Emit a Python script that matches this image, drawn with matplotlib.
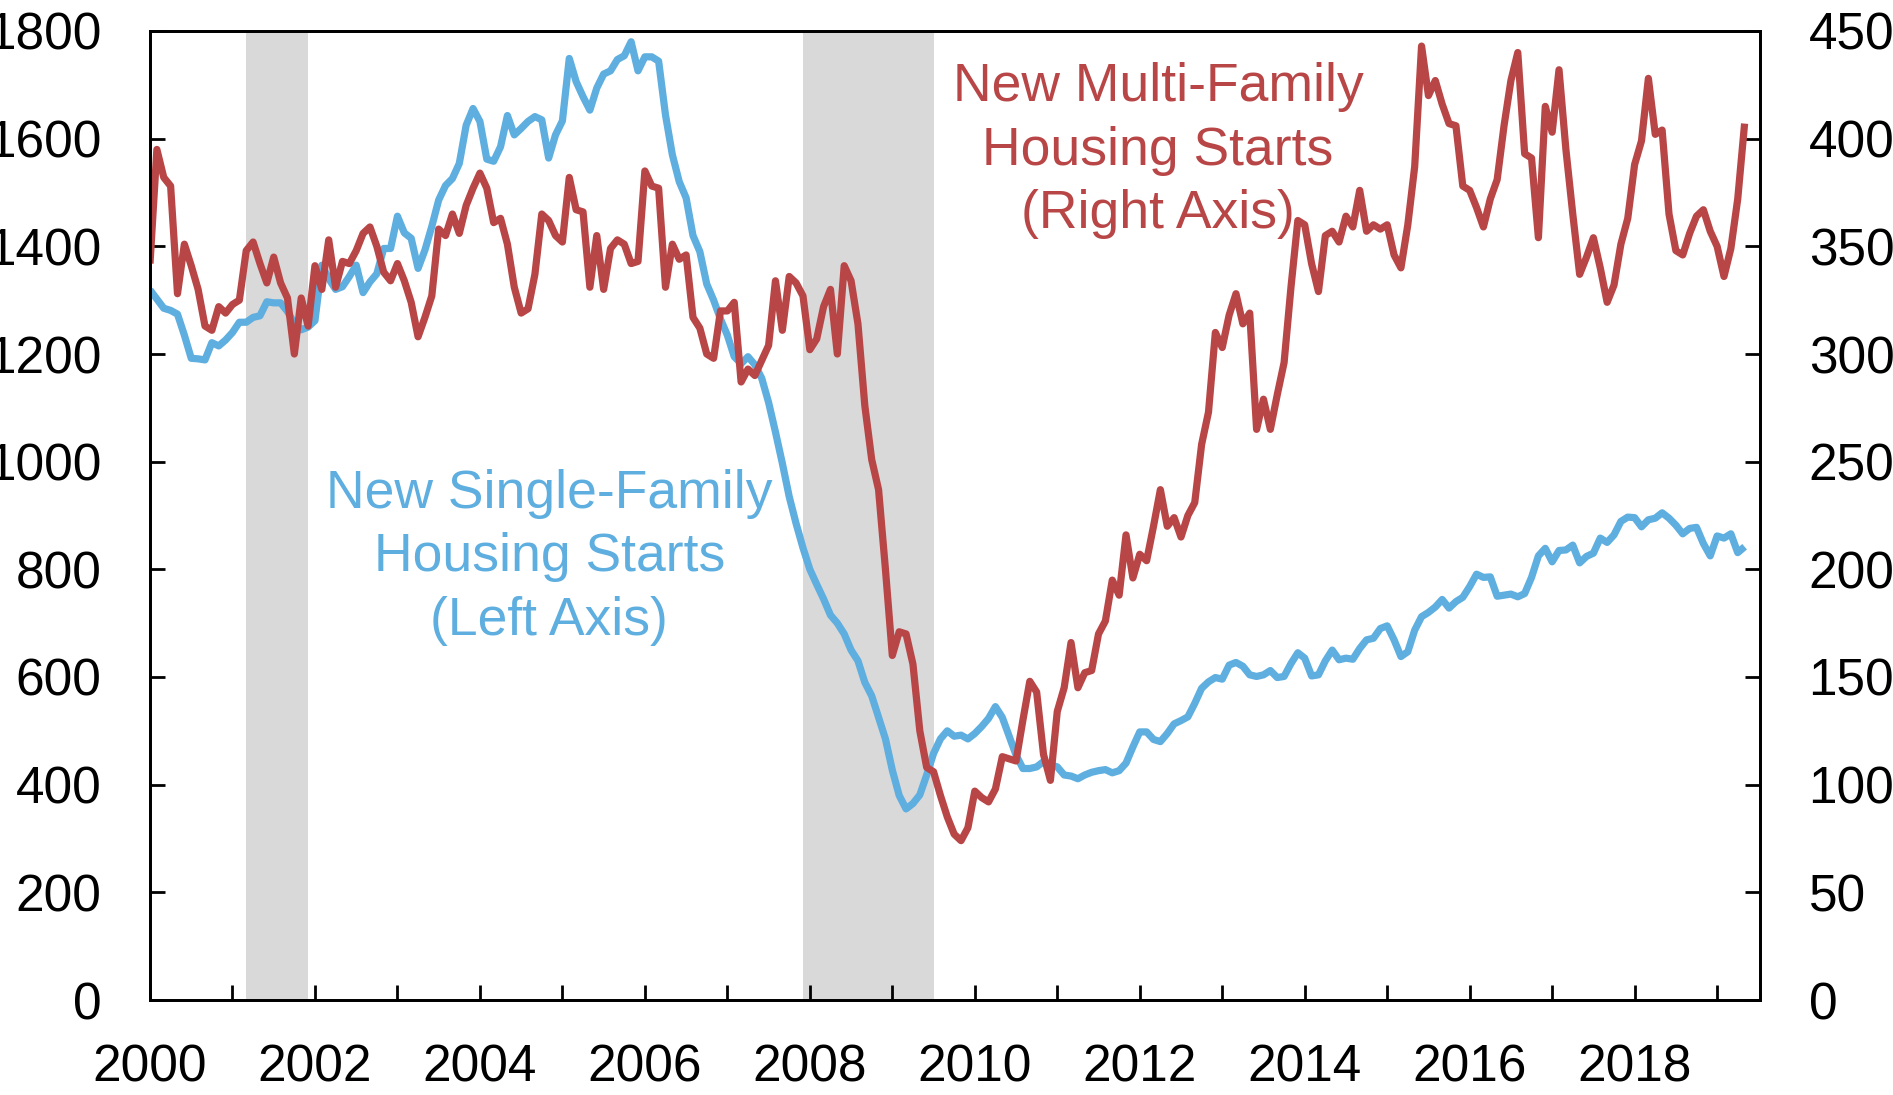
import matplotlib
matplotlib.use("Agg")
import matplotlib.pyplot as plt
import numpy as np

plt.rcParams['font.family'] = ['Liberation Sans', 'DejaVu Sans']

# ---------------- data (monthly, Jan 2000 - May 2019) ----------------
START_YEAR = 2000

# New single-family housing starts (thousands, left axis)
single_family = [
    1319, 1302, 1285, 1281, 1274, 1235, 1192, 1191, 1189, 1221, 1215, 1226,   # 2000
    1240, 1259, 1259, 1268, 1271, 1297, 1295, 1295, 1279, 1257, 1245, 1250,   # 2001
    1262, 1365, 1340, 1320, 1325, 1344, 1365, 1314, 1334, 1349, 1396, 1396,   # 2002
    1456, 1425, 1415, 1359, 1393, 1437, 1486, 1513, 1526, 1554, 1625, 1656,   # 2003
    1632, 1562, 1558, 1585, 1643, 1607, 1619, 1632, 1641, 1635, 1564, 1607,   # 2004
    1633, 1749, 1706, 1678, 1653, 1694, 1720, 1726, 1747, 1754, 1780, 1726,   # 2005
    1752, 1752, 1744, 1644, 1570, 1520, 1490, 1420, 1390, 1330, 1300, 1265,   # 2006
    1235, 1195, 1182, 1195, 1180, 1155, 1110, 1055, 997, 935, 885, 840,       # 2007
    800, 772, 745, 715, 700, 680, 650, 630, 590, 565, 525, 485,               # 2008
    427, 380, 355, 365, 381, 418, 458, 485, 500, 490, 492, 485,               # 2009
    495, 508, 523, 545, 525, 490, 455, 430, 430, 433, 443, 437,               # 2010
    433, 418, 416, 411, 418, 423, 426, 428, 422, 426, 440, 470,               # 2011
    498, 498, 484, 480, 495, 513, 519, 526, 551, 579, 591, 599,               # 2012
    596, 622, 627, 620, 604, 601, 604, 612, 599, 601, 625, 645,               # 2013
    635, 602, 604, 630, 650, 632, 635, 633, 653, 669, 672, 690,               # 2014
    695, 669, 638, 647, 687, 712, 720, 730, 744, 728, 740, 748,               # 2015
    768, 791, 785, 786, 750, 752, 754, 749, 755, 785, 825, 839,               # 2016
    814, 835, 836, 845, 812, 824, 830, 858, 850, 864, 889, 897,               # 2017
    896, 879, 892, 895, 905, 895, 882, 866, 876, 878, 848, 825,               # 2018
    862, 858, 866, 831, 842,                                                  # 2019
]

# New multi-family (5+ units) housing starts (thousands, right axis)
multi_family = [
    342, 395, 382, 378, 328, 351, 341, 330, 313, 311, 322, 319,   # 2000
    323, 325, 348, 352, 342, 333, 345, 333, 326, 300, 326, 313,   # 2001
    341, 330, 353, 331, 343, 342, 348, 356, 359, 350, 338, 334,   # 2002
    342, 334, 324, 308, 317, 327, 358, 355, 365, 356, 369, 377,   # 2003
    384, 377, 361, 363, 351, 331, 319, 321, 337, 365, 362, 355,   # 2004
    352, 382, 367, 366, 331, 355, 330, 349, 353, 351, 342, 343,   # 2005
    385, 378, 377, 331, 351, 344, 346, 317, 312, 300, 298, 320,   # 2006
    320, 324, 287, 293, 290, 297, 304, 334, 311, 336, 333, 327,   # 2007
    302, 307, 322, 330, 300, 341, 334, 314, 276, 251, 237, 200,   # 2008
    160, 171, 170, 156, 125, 108, 106, 95, 85, 77, 74, 80,        # 2009
    97, 94, 92, 98, 113, 112, 111, 130, 148, 143, 114, 102,       # 2010
    134, 145, 166, 145, 152, 153, 170, 176, 195, 188, 216, 196,   # 2011
    207, 204, 220, 237, 220, 224, 215, 225, 231, 258, 273, 310,   # 2012
    303, 318, 328, 314, 319, 265, 279, 265, 281, 296, 331, 362,   # 2013
    360, 342, 329, 355, 357, 352, 364, 359, 376, 357, 360, 358,   # 2014
    360, 346, 340, 360, 387, 443, 420, 427, 416, 407, 406, 378,   # 2015
    376, 368, 359, 372, 381, 406, 427, 440, 393, 391, 354, 415,   # 2016
    403, 432, 395, 365, 337, 345, 354, 340, 324, 332, 351, 363,   # 2017
    388, 399, 428, 402, 404, 365, 348, 346, 356, 364, 367, 357,   # 2018
    350, 336, 349, 372, 407,                                      # 2019
]

# NBER recessions (start, end) in fractional years
recession_starts = [2001 + 2/12, 2007 + 11/12]
recession_ends = [2001 + 11/12, 2009 + 6/12]

year_ticks = list(range(2000, 2020))
year_labels = [str(y) if y % 2 == 0 else '' for y in year_ticks]
left_ticks = list(range(0, 1801, 200))
right_ticks = list(range(0, 451, 50))

single_label = "New Single-Family\nHousing Starts\n(Left Axis)"
multi_label = "New Multi-Family\nHousing Starts\n(Right Axis)"

# ---------------- styling ----------------
BLUE = '#5EAEE0'
RED = '#B94646'
GREY = '#D9D9D9'
FS = 37
FS_NOTE = 38.5

t = START_YEAR + np.arange(len(single_family)) / 12.0
t2 = START_YEAR + np.arange(len(multi_family)) / 12.0

W, H = 1893, 1095
fig = plt.figure(figsize=(W / 100, H / 100), dpi=100)
ax1 = fig.add_axes([150 / W, 1 - 1000 / H, 1610 / W, 969 / H])
ax2 = ax1.twinx()

for s, e in zip(recession_starts, recession_ends):
    ax1.axvspan(s, e, color=GREY, lw=0, zorder=0)

ax1.plot(t, single_family, color=BLUE, lw=5.2, solid_joinstyle='round',
         solid_capstyle='butt', zorder=2)
ax2.plot(t2, multi_family, color=RED, lw=5.2, solid_joinstyle='round',
         solid_capstyle='butt', zorder=2)

ax1.set_xlim(2000, 2019.52)
ax1.set_ylim(0, 1800)
ax2.set_ylim(0, 450)

ax1.set_xticks(year_ticks)
ax1.set_xticklabels(year_labels)
ax1.set_yticks(left_ticks)
ax2.set_yticks(right_ticks)

ax1.tick_params(axis='x', direction='in', length=10.8, width=2, pad=31,
                labelsize=FS, top=False)
ax1.tick_params(axis='y', direction='in', length=10.8, width=2, pad=35,
                labelsize=FS)
ax2.tick_params(axis='y', direction='in', length=10.8, width=2, pad=35,
                labelsize=FS)

for ax in (ax1, ax2):
    for sp in ax.spines.values():
        sp.set_linewidth(2)
        sp.set_color('black')

ax1.text(2004.84, 822, single_label, color=BLUE, fontsize=FS_NOTE, ha='center',
         va='center', linespacing=1.34, zorder=5)
ax1.text(2012.22, 1578, multi_label, color=RED, fontsize=FS_NOTE, ha='center',
         va='center', linespacing=1.34, zorder=5)

fig.savefig('out.png', dpi=100)
